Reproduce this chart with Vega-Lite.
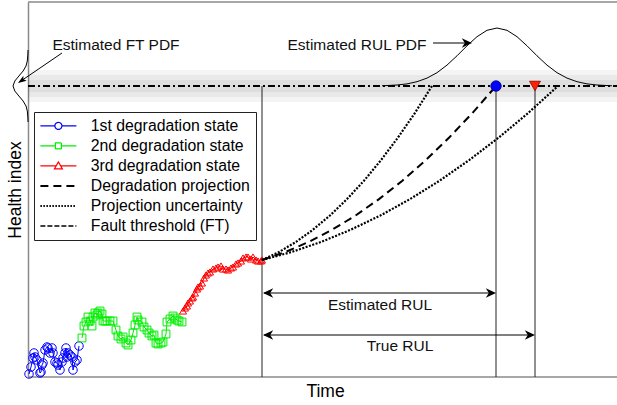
{
  "$schema": "https://vega.github.io/schema/vega-lite/v6.json",
  "width": 560,
  "height": 375,
  "autosize": {"type": "none"},
  "padding": {"left": 28, "top": 2, "right": 29, "bottom": 26},
  "background": "#ffffff",
  "config": {
    "view": {"stroke": null},
    "font": "Liberation Sans",
    "axis": {"domain": true, "domainColor": "#8a8a8a", "domainWidth": 1.5, "ticks": false, "labels": false, "grid": false, "titleFont": "Liberation Sans", "titleFontSize": 17.5, "titleFontWeight": "normal", "titleColor": "#000000"}
  },
  "datasets": {
    "frame": [{"t": 28, "t2": 617, "h": 375}, {"t": 28, "t2": 617, "h": 0}],
    "bands": [
      {"t": 28, "t2": 617, "h": 275, "h2": 307},
      {"t": 28, "t2": 617, "h": 280, "h2": 302},
      {"t": 28, "t2": 617, "h": 285, "h2": 297}
    ],
    "threshold": [{"t": 28, "t2": 617, "h": 291, "s": "Fault threshold (FT)"}],
    "verticals": [
      {"t": 262, "h": 0, "h2": 291},
      {"t": 496, "h": 0, "h2": 291},
      {"t": 535, "h": 0, "h2": 291}
    ],
    "deg": [
      {"s": "1st degradation state", "t": 29, "h": 3},
      {"s": "1st degradation state", "t": 31, "h": 10},
      {"s": "1st degradation state", "t": 33, "h": 19},
      {"s": "1st degradation state", "t": 34, "h": 24},
      {"s": "1st degradation state", "t": 35, "h": 20},
      {"s": "1st degradation state", "t": 37, "h": 17},
      {"s": "1st degradation state", "t": 40, "h": 4},
      {"s": "1st degradation state", "t": 41, "h": 5},
      {"s": "1st degradation state", "t": 42, "h": 12},
      {"s": "1st degradation state", "t": 43, "h": 14},
      {"s": "1st degradation state", "t": 45, "h": 27},
      {"s": "1st degradation state", "t": 47, "h": 30},
      {"s": "1st degradation state", "t": 48, "h": 29},
      {"s": "1st degradation state", "t": 50, "h": 24},
      {"s": "1st degradation state", "t": 52, "h": 29},
      {"s": "1st degradation state", "t": 53, "h": 24},
      {"s": "1st degradation state", "t": 55, "h": 15},
      {"s": "1st degradation state", "t": 57, "h": 14},
      {"s": "1st degradation state", "t": 58, "h": 12},
      {"s": "1st degradation state", "t": 60, "h": 7},
      {"s": "1st degradation state", "t": 62, "h": 15},
      {"s": "1st degradation state", "t": 63, "h": 19},
      {"s": "1st degradation state", "t": 65, "h": 24},
      {"s": "1st degradation state", "t": 66, "h": 29},
      {"s": "1st degradation state", "t": 67, "h": 20},
      {"s": "1st degradation state", "t": 68, "h": 24},
      {"s": "1st degradation state", "t": 70, "h": 22},
      {"s": "1st degradation state", "t": 72, "h": 20},
      {"s": "1st degradation state", "t": 73, "h": 7},
      {"s": "1st degradation state", "t": 75, "h": 15},
      {"s": "1st degradation state", "t": 77, "h": 17},
      {"s": "1st degradation state", "t": 79, "h": 31},
      {"s": "2nd degradation state", "t": 82, "h": 39},
      {"s": "2nd degradation state", "t": 84, "h": 51},
      {"s": "2nd degradation state", "t": 86, "h": 55},
      {"s": "2nd degradation state", "t": 88, "h": 60},
      {"s": "2nd degradation state", "t": 90, "h": 56},
      {"s": "2nd degradation state", "t": 92, "h": 51},
      {"s": "2nd degradation state", "t": 93, "h": 60},
      {"s": "2nd degradation state", "t": 95, "h": 64},
      {"s": "2nd degradation state", "t": 97, "h": 62},
      {"s": "2nd degradation state", "t": 98, "h": 64},
      {"s": "2nd degradation state", "t": 100, "h": 66},
      {"s": "2nd degradation state", "t": 102, "h": 63},
      {"s": "2nd degradation state", "t": 103, "h": 56},
      {"s": "2nd degradation state", "t": 105, "h": 56},
      {"s": "2nd degradation state", "t": 107, "h": 56},
      {"s": "2nd degradation state", "t": 110, "h": 56},
      {"s": "2nd degradation state", "t": 113, "h": 56},
      {"s": "2nd degradation state", "t": 116, "h": 47},
      {"s": "2nd degradation state", "t": 118, "h": 41},
      {"s": "2nd degradation state", "t": 121, "h": 38},
      {"s": "2nd degradation state", "t": 123, "h": 40},
      {"s": "2nd degradation state", "t": 126, "h": 34},
      {"s": "2nd degradation state", "t": 128, "h": 32},
      {"s": "2nd degradation state", "t": 131, "h": 37},
      {"s": "2nd degradation state", "t": 133, "h": 44},
      {"s": "2nd degradation state", "t": 135, "h": 52},
      {"s": "2nd degradation state", "t": 137, "h": 60},
      {"s": "2nd degradation state", "t": 138, "h": 57},
      {"s": "2nd degradation state", "t": 142, "h": 55},
      {"s": "2nd degradation state", "t": 144, "h": 50},
      {"s": "2nd degradation state", "t": 147, "h": 47},
      {"s": "2nd degradation state", "t": 149, "h": 44},
      {"s": "2nd degradation state", "t": 152, "h": 41},
      {"s": "2nd degradation state", "t": 154, "h": 42},
      {"s": "2nd degradation state", "t": 156, "h": 34},
      {"s": "2nd degradation state", "t": 158, "h": 33},
      {"s": "2nd degradation state", "t": 161, "h": 34},
      {"s": "2nd degradation state", "t": 163, "h": 35},
      {"s": "2nd degradation state", "t": 166, "h": 43},
      {"s": "2nd degradation state", "t": 167, "h": 55},
      {"s": "2nd degradation state", "t": 170, "h": 58},
      {"s": "2nd degradation state", "t": 173, "h": 61},
      {"s": "2nd degradation state", "t": 175, "h": 59},
      {"s": "2nd degradation state", "t": 177, "h": 57},
      {"s": "2nd degradation state", "t": 179, "h": 56},
      {"s": "2nd degradation state", "t": 182, "h": 55},
      {"s": "3rd degradation state", "t": 183, "h": 66},
      {"s": "3rd degradation state", "t": 185, "h": 69},
      {"s": "3rd degradation state", "t": 187, "h": 71},
      {"s": "3rd degradation state", "t": 188, "h": 74},
      {"s": "3rd degradation state", "t": 190, "h": 76},
      {"s": "3rd degradation state", "t": 192, "h": 79},
      {"s": "3rd degradation state", "t": 193, "h": 80},
      {"s": "3rd degradation state", "t": 195, "h": 84},
      {"s": "3rd degradation state", "t": 197, "h": 88},
      {"s": "3rd degradation state", "t": 198, "h": 90},
      {"s": "3rd degradation state", "t": 200, "h": 91},
      {"s": "3rd degradation state", "t": 202, "h": 94},
      {"s": "3rd degradation state", "t": 204, "h": 99},
      {"s": "3rd degradation state", "t": 206, "h": 102},
      {"s": "3rd degradation state", "t": 208, "h": 104},
      {"s": "3rd degradation state", "t": 210, "h": 105},
      {"s": "3rd degradation state", "t": 213, "h": 108},
      {"s": "3rd degradation state", "t": 216, "h": 109},
      {"s": "3rd degradation state", "t": 218, "h": 110},
      {"s": "3rd degradation state", "t": 221, "h": 111},
      {"s": "3rd degradation state", "t": 223, "h": 108},
      {"s": "3rd degradation state", "t": 226, "h": 108},
      {"s": "3rd degradation state", "t": 228, "h": 107},
      {"s": "3rd degradation state", "t": 231, "h": 109},
      {"s": "3rd degradation state", "t": 233, "h": 110},
      {"s": "3rd degradation state", "t": 236, "h": 113},
      {"s": "3rd degradation state", "t": 238, "h": 114},
      {"s": "3rd degradation state", "t": 241, "h": 116},
      {"s": "3rd degradation state", "t": 243, "h": 119},
      {"s": "3rd degradation state", "t": 246, "h": 120},
      {"s": "3rd degradation state", "t": 248, "h": 120},
      {"s": "3rd degradation state", "t": 251, "h": 118},
      {"s": "3rd degradation state", "t": 253, "h": 120},
      {"s": "3rd degradation state", "t": 256, "h": 117},
      {"s": "3rd degradation state", "t": 258, "h": 116},
      {"s": "3rd degradation state", "t": 261, "h": 116},
      {"s": "3rd degradation state", "t": 262, "h": 117}
    ],
    "proj": [
      {"s": "Degradation projection", "k": "mid", "t": 262, "h": 117},
      {"s": "Degradation projection", "k": "mid", "t": 285.4, "h": 125},
      {"s": "Degradation projection", "k": "mid", "t": 308.8, "h": 135.1},
      {"s": "Degradation projection", "k": "mid", "t": 332.2, "h": 147.3},
      {"s": "Degradation projection", "k": "mid", "t": 355.6, "h": 161.5},
      {"s": "Degradation projection", "k": "mid", "t": 379, "h": 177.9},
      {"s": "Degradation projection", "k": "mid", "t": 402.4, "h": 196.3},
      {"s": "Degradation projection", "k": "mid", "t": 425.8, "h": 216.9},
      {"s": "Degradation projection", "k": "mid", "t": 449.2, "h": 239.5},
      {"s": "Degradation projection", "k": "mid", "t": 472.6, "h": 264.2},
      {"s": "Degradation projection", "k": "mid", "t": 496, "h": 291},
      {"s": "Projection uncertainty", "k": "upper", "t": 262, "h": 117},
      {"s": "Projection uncertainty", "k": "upper", "t": 279, "h": 125},
      {"s": "Projection uncertainty", "k": "upper", "t": 296, "h": 135.1},
      {"s": "Projection uncertainty", "k": "upper", "t": 313, "h": 147.3},
      {"s": "Projection uncertainty", "k": "upper", "t": 330, "h": 161.5},
      {"s": "Projection uncertainty", "k": "upper", "t": 347, "h": 177.9},
      {"s": "Projection uncertainty", "k": "upper", "t": 364, "h": 196.3},
      {"s": "Projection uncertainty", "k": "upper", "t": 381, "h": 216.9},
      {"s": "Projection uncertainty", "k": "upper", "t": 398, "h": 239.5},
      {"s": "Projection uncertainty", "k": "upper", "t": 415, "h": 264.2},
      {"s": "Projection uncertainty", "k": "upper", "t": 432, "h": 291},
      {"s": "Projection uncertainty", "k": "lower", "t": 262, "h": 117},
      {"s": "Projection uncertainty", "k": "lower", "t": 291.6, "h": 125},
      {"s": "Projection uncertainty", "k": "lower", "t": 321.2, "h": 135.1},
      {"s": "Projection uncertainty", "k": "lower", "t": 350.8, "h": 147.3},
      {"s": "Projection uncertainty", "k": "lower", "t": 380.4, "h": 161.5},
      {"s": "Projection uncertainty", "k": "lower", "t": 410, "h": 177.9},
      {"s": "Projection uncertainty", "k": "lower", "t": 439.6, "h": 196.3},
      {"s": "Projection uncertainty", "k": "lower", "t": 469.2, "h": 216.9},
      {"s": "Projection uncertainty", "k": "lower", "t": 498.8, "h": 239.5},
      {"s": "Projection uncertainty", "k": "lower", "t": 528.4, "h": 264.2},
      {"s": "Projection uncertainty", "k": "lower", "t": 558, "h": 291}
    ],
    "hits": [
      {"what": "estimated", "t": 496, "h": 291},
      {"what": "true", "t": 535, "h": 291}
    ],
    "rulpdf": [
      {"t": 382, "h": 291.2}, {"t": 397, "h": 292}, {"t": 407, "h": 293.1}, {"t": 417, "h": 295.3},
      {"t": 427, "h": 298.9}, {"t": 437, "h": 304.3}, {"t": 447, "h": 311.9}, {"t": 457, "h": 321.2},
      {"t": 467, "h": 331.2}, {"t": 477, "h": 340.3}, {"t": 487, "h": 346.7}, {"t": 497, "h": 349},
      {"t": 507, "h": 346.7}, {"t": 517, "h": 340.3}, {"t": 527, "h": 331.2}, {"t": 537, "h": 321.2},
      {"t": 547, "h": 311.9}, {"t": 557, "h": 304.3}, {"t": 567, "h": 298.9}, {"t": 577, "h": 295.3},
      {"t": 587, "h": 293.1}, {"t": 597, "h": 292}, {"t": 612, "h": 291.2}
    ],
    "ftpdf": [
      {"t": 28, "h": 327}, {"t": 27.9, "h": 323}, {"t": 27.3, "h": 316}, {"t": 26, "h": 311},
      {"t": 23.1, "h": 306}, {"t": 18.9, "h": 301}, {"t": 14.8, "h": 296}, {"t": 13, "h": 291},
      {"t": 14.8, "h": 286}, {"t": 18.9, "h": 281}, {"t": 23.1, "h": 276}, {"t": 26, "h": 271},
      {"t": 27.3, "h": 266}, {"t": 27.9, "h": 259}, {"t": 28, "h": 255}
    ],
    "arrows": [
      {"t": 62, "h": 324, "t2": 19.5, "h2": 295},
      {"t": 433, "h": 334, "t2": 470, "h2": 334},
      {"t": 264, "h": 84, "t2": 494, "h2": 84},
      {"t": 264, "h": 42, "t2": 533, "h2": 42}
    ],
    "heads": [
      {"dir": "right", "t": 472, "h": 334},
      {"dir": "left", "t": 263, "h": 84},
      {"dir": "right", "t": 496, "h": 84},
      {"dir": "left", "t": 263, "h": 42},
      {"dir": "right", "t": 535, "h": 42},
      {"dir": "downleft", "t": 18, "h": 294}
    ],
    "labels": [
      {"label": "Estimated FT PDF", "t": 116, "h": 332},
      {"label": "Estimated RUL PDF", "t": 357, "h": 332},
      {"label": "Estimated RUL", "t": 380, "h": 72},
      {"label": "True RUL", "t": 400, "h": 31}
    ]
  },
  "encoding": {
    "x": {"field": "t", "type": "quantitative", "title": "Time", "scale": {"domain": [28, 588], "nice": false, "zero": false}, "axis": {"domain": false, "titlePadding": 5, "titleX": 297}},
    "y": {"field": "h", "type": "quantitative", "title": "Health index", "scale": {"domain": [0, 375], "nice": false, "zero": false}, "axis": {"titlePadding": 4}}
  },
  "layer": [
    {
      "data": {"name": "frame"},
      "mark": {"type": "rule", "color": "#8a8a8a", "strokeWidth": 1.5},
      "encoding": {"x2": {"field": "t2"}}
    },
    {
      "data": {"name": "bands"},
      "mark": {"type": "rect", "color": "#000000", "opacity": 0.045},
      "encoding": {"x2": {"field": "t2"}, "y2": {"field": "h2"}}
    },
    {
      "data": {"name": "threshold"},
      "mark": {"type": "rule", "strokeDash": [7, 3, 2, 3], "strokeWidth": 2},
      "encoding": {
        "x2": {"field": "t2"},
        "color": {"field": "s", "type": "nominal"}
      }
    },
    {
      "data": {"name": "verticals"},
      "mark": {"type": "rule", "color": "#222222", "strokeWidth": 1},
      "encoding": {"y2": {"field": "h2"}}
    },
    {
      "data": {"name": "deg"},
      "mark": {"type": "line", "strokeWidth": 1},
      "encoding": {
        "color": {
          "field": "s", "type": "nominal",
          "scale": {
            "domain": ["1st degradation state", "2nd degradation state", "3rd degradation state", "Degradation projection", "Projection uncertainty", "Fault threshold (FT)"],
            "range": ["#0000ff", "#00ee00", "#ff0000", "#000000", "#000000", "#000000"]
          },
          "legend": {
            "orient": "none", "legendX": 6, "legendY": 110, "title": null, "direction": "vertical",
            "padding": 6, "strokeColor": "#222222", "fillColor": "#ffffff",
            "labelFont": "Liberation Sans", "labelFontSize": 15.8, "labelColor": "#000000", "labelLimit": 400, "labelOffset": 35,
            "symbolSize": 100, "symbolStrokeWidth": 1.2, "rowPadding": 3,
            "encoding": {
              "symbols": {
                "shape": {"value": {"expr": "datum.value === '1st degradation state' ? 'M-1.5,0H1.4M2.8,0H5.7M2.8,0A0.7,0.7,0,1,1,1.4,0A0.7,0.7,0,1,1,2.8,0' : datum.value === '2nd degradation state' ? 'M-1.5,0H1.5M2.7,0H5.7M1.5,-0.6H2.7V0.6H1.5Z' : datum.value === '3rd degradation state' ? 'M-1.5,0H1.64M2.56,0H5.7M2.1,-0.8L2.9,0.6L1.3,0.6Z' : 'M-1.5,0H5.7'"}},
                "strokeDash": {"value": {"expr": "datum.value === 'Degradation projection' ? [8,5] : datum.value === 'Projection uncertainty' ? [1.5,1.5] : datum.value === 'Fault threshold (FT)' ? [5,2] : [1,0]"}},
                "strokeWidth": {"value": {"expr": "datum.value === 'Degradation projection' || datum.value === 'Projection uncertainty' ? 2 : datum.value === 'Fault threshold (FT)' ? 1.5 : 1.2"}},
                "fill": {"value": "transparent"},
                "opacity": {"value": 1}
              }
            }
          }
        }
      }
    },
    {
      "data": {"name": "deg"},
      "mark": {"type": "point", "filled": false, "strokeWidth": 1, "opacity": 1},
      "encoding": {
        "color": {"field": "s", "type": "nominal"},
        "shape": {"field": "s", "type": "nominal", "legend": null, "scale": {"domain": ["1st degradation state", "2nd degradation state", "3rd degradation state"], "range": ["circle", "square", "triangle-up"]}},
        "size": {"field": "s", "type": "nominal", "legend": null, "scale": {"domain": ["1st degradation state", "2nd degradation state", "3rd degradation state"], "range": [72, 50, 72]}}
      }
    },
    {
      "data": {"name": "proj"},
      "transform": [{"filter": "datum.s === 'Degradation projection'"}],
      "mark": {"type": "line", "strokeDash": [8, 5], "strokeWidth": 2},
      "encoding": {"color": {"field": "s", "type": "nominal"}}
    },
    {
      "data": {"name": "proj"},
      "transform": [{"filter": "datum.s === 'Projection uncertainty'"}],
      "mark": {"type": "line", "strokeDash": [2, 1.5], "strokeWidth": 2.2},
      "encoding": {"color": {"field": "s", "type": "nominal"}, "detail": {"field": "k"}}
    },
    {
      "data": {"name": "rulpdf"},
      "mark": {"type": "line", "color": "#000000", "strokeWidth": 1},
      "encoding": {}
    },
    {
      "data": {"name": "ftpdf"},
      "mark": {"type": "line", "color": "#000000", "strokeWidth": 1},
      "encoding": {"order": {"field": "h", "type": "quantitative"}}
    },
    {
      "data": {"name": "hits"},
      "transform": [{"filter": "datum.what === 'estimated'"}],
      "mark": {"type": "point", "shape": "circle", "filled": true, "fill": "#0000ff", "stroke": "#000066", "strokeWidth": 0.8, "size": 110, "opacity": 1}
    },
    {
      "data": {"name": "hits"},
      "transform": [{"filter": "datum.what === 'true'"}],
      "mark": {"type": "point", "shape": "triangle-down", "filled": true, "fill": "#ff2200", "stroke": "#880000", "strokeWidth": 0.8, "size": 120, "opacity": 1}
    },
    {
      "data": {"name": "arrows"},
      "mark": {"type": "rule", "color": "#000000", "strokeWidth": 1},
      "encoding": {"x2": {"field": "t2"}, "y2": {"field": "h2"}}
    },
    {
      "data": {"name": "heads"},
      "transform": [{"filter": "datum.dir === 'right'"}],
      "mark": {"type": "point", "shape": "M0,0L-3.4,-1.6L-2.4,0L-3.4,1.6Z", "filled": true, "color": "#000000", "size": 36, "opacity": 1, "angle": 0}
    },
    {
      "data": {"name": "heads"},
      "transform": [{"filter": "datum.dir === 'left'"}],
      "mark": {"type": "point", "shape": "M0,0L-3.4,-1.6L-2.4,0L-3.4,1.6Z", "filled": true, "color": "#000000", "size": 36, "opacity": 1, "angle": 180}
    },
    {
      "data": {"name": "heads"},
      "transform": [{"filter": "datum.dir === 'downleft'"}],
      "mark": {"type": "point", "shape": "M0,0L-3.4,-1.2L-2.6,0L-3.4,1.2Z", "filled": true, "color": "#000000", "size": 25, "opacity": 1, "angle": 146}
    },
    {
      "data": {"name": "labels"},
      "mark": {"type": "text", "font": "Liberation Sans", "fontSize": 15.5, "color": "#111111", "align": "center", "baseline": "middle"},
      "encoding": {"text": {"field": "label"}}
    }
  ]
}
